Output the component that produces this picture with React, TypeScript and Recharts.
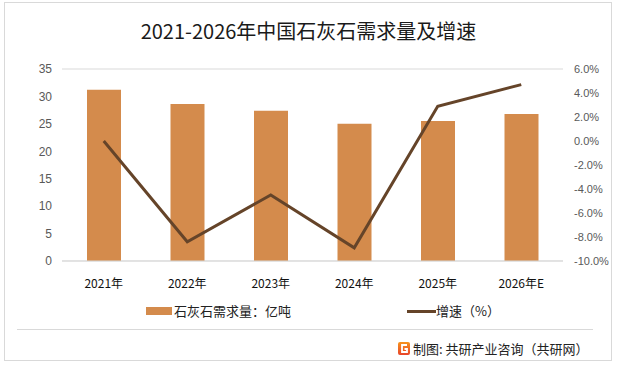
import React from "react";
import { ComposedChart, Bar, Line, XAxis, YAxis, CartesianGrid } from "recharts";

const categories = ["2021年", "2022年", "2023年", "2024年", "2025年", "2026年E"];
const demand = [31.2, 28.6, 27.4, 25.0, 25.5, 26.8];
const growth = [0.0, -8.4, -4.5, -8.9, 2.9, 4.7];
const leftTicks = [0, 5, 10, 15, 20, 25, 30, 35];
const rightTicks = [-10, -8, -6, -4, -2, 0, 2, 4, 6];

const data = categories.map((c, i) => ({ name: c, demand: demand[i], growth: growth[i] }));

const BAR = "#D48B4C";
const LINE = "#654429";
const FONT = "'Liberation Sans', 'Noto Sans CJK SC', sans-serif";
const CJK = "'Noto Sans CJK SC', sans-serif";

export default function App() {
  return (
    <div style={{ position: "absolute", left: 0, top: 0, width: 617, height: 368, background: "#fff", fontFamily: CJK }}>
      <div style={{ position: "absolute", left: 4, top: 2, width: 606, height: 357, border: "1px solid #d9d9d9" }} />
      <div style={{ position: "absolute", left: 0, top: 18, width: 617, textAlign: "center", fontSize: 20, color: "#1a1a1a", lineHeight: "26px", fontWeight: 400 }}>
        2021-2026年中国石灰石需求量及增速
      </div>
      <div style={{ position: "absolute", left: 0, top: 0 }}>
        <ComposedChart width={617} height={368} data={data} margin={{ top: 69, bottom: 77, left: 12, right: 4 }}>
          <CartesianGrid vertical={false} stroke="#d9d9d9" />
          <XAxis
            dataKey="name"
            axisLine={{ stroke: "#d9d9d9" }}
            tickLine={false}
            tickSize={0}
            tickMargin={18}
            height={30}
            tick={{ fontSize: 12, fill: "#111", fontFamily: CJK }}
            interval={0}
          />
          <YAxis
            yAxisId="left"
            domain={[0, 35]}
            ticks={leftTicks}
            axisLine={false}
            tickLine={false}
            tickSize={0}
            tickMargin={10}
            width={50}
            tick={{ fontSize: 12, fill: "#595959", fontFamily: FONT }}
          />
          <YAxis
            yAxisId="right"
            orientation="right"
            domain={[-10, 6]}
            ticks={rightTicks}
            axisLine={false}
            tickLine={false}
            tickSize={0}
            tickMargin={11}
            width={50}
            tickFormatter={(v: number) => v.toFixed(1) + "%"}
            tick={{ fontSize: 11, fill: "#595959", fontFamily: FONT, textAnchor: "start" }}
          />
          <Bar yAxisId="left" dataKey="demand" fill={BAR} barSize={34} isAnimationActive={false} />
          <Line yAxisId="right" dataKey="growth" type="linear" stroke={LINE} strokeWidth={3} dot={false} isAnimationActive={false} />
        </ComposedChart>
      </div>
      {/* legend */}
      <div style={{ position: "absolute", left: 146, top: 307, width: 26, height: 8, background: BAR }} />
      <div style={{ position: "absolute", left: 174, top: 302, fontSize: 13, lineHeight: "18px", color: "#222" }}>石灰石需求量：亿吨</div>
      <div style={{ position: "absolute", left: 407, top: 310, width: 29, height: 3, background: LINE }} />
      <div style={{ position: "absolute", left: 436, top: 302, fontSize: 13, lineHeight: "18px", color: "#222" }}>增速（%）</div>
      {/* separator */}
      <div style={{ position: "absolute", left: 17, top: 329, width: 576, height: 1, background: "#d9d9d9" }} />
      {/* footer */}
      <svg style={{ position: "absolute", left: 398, top: 342 }} width={12} height={13}>
        <defs>
          <linearGradient id="lg" x1="0" y1="0" x2="0" y2="1">
            <stop offset="0" stopColor="#F7941D" />
            <stop offset="1" stopColor="#E8442A" />
          </linearGradient>
        </defs>
        <rect x={0} y={0} width={12} height={13} rx={2} fill="url(#lg)" />
        <path d="M9 3 H4 V10 H9 V7 H6.5" stroke="#fff" strokeWidth={1.8} fill="none" />
      </svg>
      <div style={{ position: "absolute", left: 413, top: 340, fontSize: 13, lineHeight: "18px", color: "#222" }}>制图: 共研产业咨询（共研网）</div>
    </div>
  );
}
